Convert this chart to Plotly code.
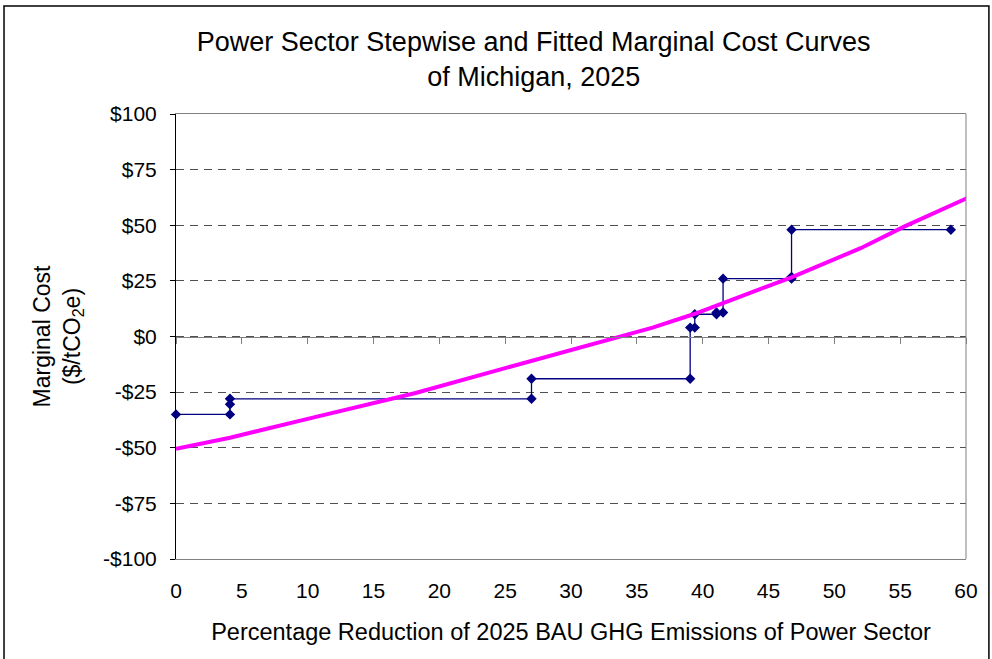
import plotly.graph_objects as go

# Stepwise marginal cost curve (percent reduction vs $/tCO2e)
step_x = [0.0, 4.1, 4.1, 4.1, 27.0, 27.0, 39.05, 39.05, 39.4, 39.4,
          41.05, 41.05, 41.55, 41.55, 46.75, 46.75, 46.75, 58.85]
step_y = [-35.0, -35.0, -30.5, -28.0, -28.0, -19.0, -19.0, 4.0, 4.0, 10.0,
          10.0, 10.8, 10.8, 26.0, 26.0, 26.8, 48.0, 48.0]

# Fitted marginal cost curve
fit_x = [0.0, 4.1, 10.0, 18.2, 25.0, 31.5, 36.2, 39.3, 44.0, 46.7, 52.0, 55.3, 60.5]
fit_y = [-50.5, -45.5, -37.0, -25.4, -14.2, -3.4, 4.0, 10.0, 20.2, 26.5, 39.7, 49.4, 63.3]

x_ticks = list(range(0, 61, 5))
y_ticks = [-100, -75, -50, -25, 0, 25, 50, 75, 100]
y_labels = ["-$100", "-$75", "-$50", "-$25", "$0", "$25", "$50", "$75", "$100"]

FONT = "Liberation Sans, Arial, sans-serif"

fig = go.Figure()

fig.add_trace(go.Scatter(
    x=step_x, y=step_y, mode="lines+markers",
    line=dict(color="#000080", width=1.3),
    marker=dict(symbol="diamond", size=8, color="#000080"),
    showlegend=False, cliponaxis=False,
))

fig.add_trace(go.Scatter(
    x=fit_x, y=fit_y, mode="lines",
    line=dict(color="#FF00FF", width=4),
    showlegend=False,
))

# Companion x axis drawn along the zero line (line + tick marks only)
fig.add_trace(go.Scatter(x=[None], y=[None], xaxis="x2", showlegend=False))

fig.update_layout(
    width=992, height=659,
    margin=dict(l=176, r=26, t=114, b=100),
    paper_bgcolor="white", plot_bgcolor="white",
    font=dict(family=FONT, color="black"),
    title=dict(
        text="Power Sector Stepwise and Fitted Marginal Cost Curves<br>of Michigan, 2025",
        x=0.538, xanchor="center", y=1 - 51 / 659, yanchor="middle",
        font=dict(size=27, family=FONT, color="black"),
    ),
    xaxis=dict(
        range=[0, 60], tickvals=x_ticks, ticks="", showgrid=False, zeroline=False,
        showline=True, linecolor="#808080", linewidth=1, mirror=True,
        tickfont=dict(size=21), ticklabelstandoff=13,
        title=dict(text="Percentage Reduction of 2025 BAU GHG Emissions of Power Sector",
                   font=dict(size=23.5), standoff=22),
    ),
    xaxis2=dict(
        range=[0, 60], overlaying="x", anchor="free", position=0.5, side="bottom",
        tickvals=x_ticks, ticks="outside", ticklen=6, tickcolor="#808080",
        showticklabels=False, showline=True, linecolor="#808080", linewidth=1.2,
        showgrid=False, zeroline=False,
    ),
    yaxis=dict(
        range=[-100, 100], tickvals=y_ticks, ticktext=y_labels,
        ticks="outside", ticklen=5, tickcolor="black",
        showline=True, linecolor="black", linewidth=1,
        showgrid=True, gridcolor="#505050", griddash="8px,6px", gridwidth=1,
        zeroline=False, tickfont=dict(size=21), ticklabelstandoff=9,
        title=dict(text="Marginal Cost<br>($/tCO<sub>2</sub>e)", font=dict(size=23), standoff=16),
    ),
    shapes=[
        # outer chart frame
        dict(type="rect", xref="paper", yref="paper",
             x0=-0.2177, x1=1.029, y0=-0.24, y1=1.2427,
             line=dict(color="black", width=1.5), fillcolor="rgba(0,0,0,0)", layer="below"),
        # right-hand border of the plotting area
        dict(type="line", xref="paper", yref="paper", x0=1, x1=1, y0=0, y1=1,
             line=dict(color="#808080", width=1)),
    ],
)

fig.write_html("out.html")
